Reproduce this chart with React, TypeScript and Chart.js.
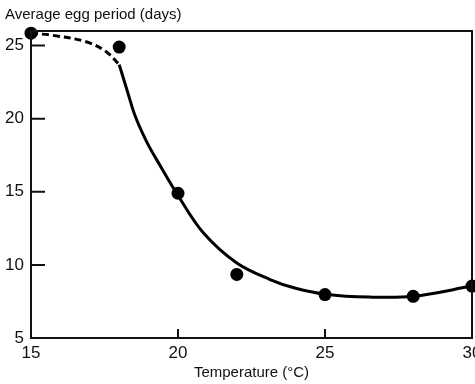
import React, { useEffect, useRef } from "react";
import { Chart, registerables } from "chart.js";
Chart.register(...registerables);

const temps = [15, 18, 20, 22, 25, 28, 30];
const eggDays = [25.85, 24.9, 14.9, 9.35, 7.97, 7.85, 8.55];
const dashedX = [15, 15.75, 16.9, 17.57, 18.0];
const dashedY = [25.85, 25.7, 25.25, 24.57, 23.7];
const solidX = [18.0, 18.26, 18.54, 18.94, 19.39, 20.0, 20.86, 22.0, 23.13, 24, 25, 26.5, 28, 30];
const solidY = [23.7, 22.0, 20.2, 18.4, 16.8, 14.75, 12.2, 10.13, 9.0, 8.4, 8.0, 7.8, 7.85, 8.55];
const xTicks = [15, 20, 25, 30];
const yTicks = [5, 10, 15, 20, 25];
const yTitle = "Average egg period (days)";
const xTitle = "Temperature (°C)";

const FONT = "'Liberation Sans', Arial, sans-serif";

const fixAreaPlugin = {
  id: "fixArea",
  afterLayout(chart: any) {
    const xs = chart.scales.x;
    const target = chart.width - 3;
    chart.chartArea.right = target;
    chart.chartArea.width = target - chart.chartArea.left;
    xs.right = target;
    xs.width = target - xs.left;
    xs.configure();
    xs._labelItems = null;
  },
};

const framePlugin = {
  id: "frame",
  afterDatasetsDraw(chart: any) {
    const { ctx, chartArea } = chart;
    const xs = chart.scales.x;
    const ys = chart.scales.y;
    ctx.save();
    ctx.strokeStyle = "#111";
    ctx.lineWidth = 2;
    ctx.strokeRect(chartArea.left, chartArea.top, chartArea.right - chartArea.left, chartArea.bottom - chartArea.top);
    ctx.beginPath();
    yTicks.forEach((v) => {
      if (v === ys.min) return;
      const p = ys.getPixelForValue(v);
      ctx.moveTo(chartArea.left, p);
      ctx.lineTo(chartArea.left + 14, p);
    });
    xTicks.forEach((v) => {
      if (v === xs.min || v === xs.max) return;
      const p = xs.getPixelForValue(v);
      ctx.moveTo(p, chartArea.bottom);
      ctx.lineTo(p, chartArea.bottom - 9);
    });
    ctx.stroke();
    ctx.fillStyle = "#111";
    ctx.font = "15px " + FONT;
    ctx.textBaseline = "middle";
    ctx.textAlign = "left";
    ctx.fillText(yTitle, chartArea.left - 26, 15);
    ctx.textAlign = "center";
    ctx.fillText(xTitle, (chartArea.left + chartArea.right) / 2, chartArea.bottom + 35);
    ctx.restore();
  },
};

export default function App() {
  const ref = useRef<HTMLCanvasElement>(null);
  useEffect(() => {
    if (!ref.current) return;
    const chart = new Chart(ref.current, {
      type: "scatter",
      data: {
        datasets: [
          {
            type: "scatter",
            data: temps.map((t, i) => ({ x: t, y: eggDays[i] })),
            pointRadius: 6.5,
            pointBackgroundColor: "#000",
            pointBorderWidth: 0,
            showLine: false,
            clip: false,
            order: 0,
          } as any,
          {
            type: "line",
            data: dashedX.map((t, i) => ({ x: t, y: dashedY[i] })),
            borderColor: "#000",
            borderWidth: 3,
            borderDash: [7, 4],
            pointRadius: 0,
            tension: 0.35,
            fill: false,
            clip: false,
            order: 1,
          } as any,
          {
            type: "line",
            data: solidX.map((t, i) => ({ x: t, y: solidY[i] })),
            borderColor: "#000",
            borderWidth: 3,
            pointRadius: 0,
            tension: 0.35,
            fill: false,
            clip: false,
            order: 1,
          } as any,
        ],
      },
      plugins: [fixAreaPlugin, framePlugin],
      options: {
        responsive: false,
        animation: false,
        events: [],
        layout: { padding: { top: 31, right: 3, left: 0, bottom: 0 } },
        plugins: { legend: { display: false }, tooltip: { enabled: false }, title: { display: false } },
        scales: {
          x: {
            type: "linear",
            min: 15,
            max: 30,
            afterBuildTicks: (s: any) => {
              s.ticks = xTicks.map((v) => ({ value: v }));
            },
            afterFit: (s: any) => {
              s.height = 46;
              s.paddingLeft = 0;
              s.paddingRight = 0;
            },
            grid: { display: false, drawTicks: false },
            border: { display: false },
            ticks: {
              color: "#111",
              font: { family: FONT, size: 17 },
              padding: 5,
              maxRotation: 0,
              autoSkip: false,
            },
          },
          y: {
            type: "linear",
            min: 5,
            max: 26,
            afterBuildTicks: (s: any) => {
              s.ticks = yTicks.map((v) => ({ value: v }));
            },
            afterFit: (s: any) => {
              s.width = 31;
              s.paddingTop = 0;
              s.paddingBottom = 0;
            },
            grid: { display: false, drawTicks: false },
            border: { display: false },
            ticks: {
              color: "#111",
              font: { family: FONT, size: 17 },
              padding: 7,
              autoSkip: false,
            },
          },
        },
      },
    });
    return () => chart.destroy();
  }, []);
  return (
    <div style={{ position: "absolute", left: 0, top: 0, width: 475, height: 384, background: "#fff" }}>
      <canvas ref={ref} width={475} height={384} style={{ width: 475, height: 384 }} />
    </div>
  );
}
